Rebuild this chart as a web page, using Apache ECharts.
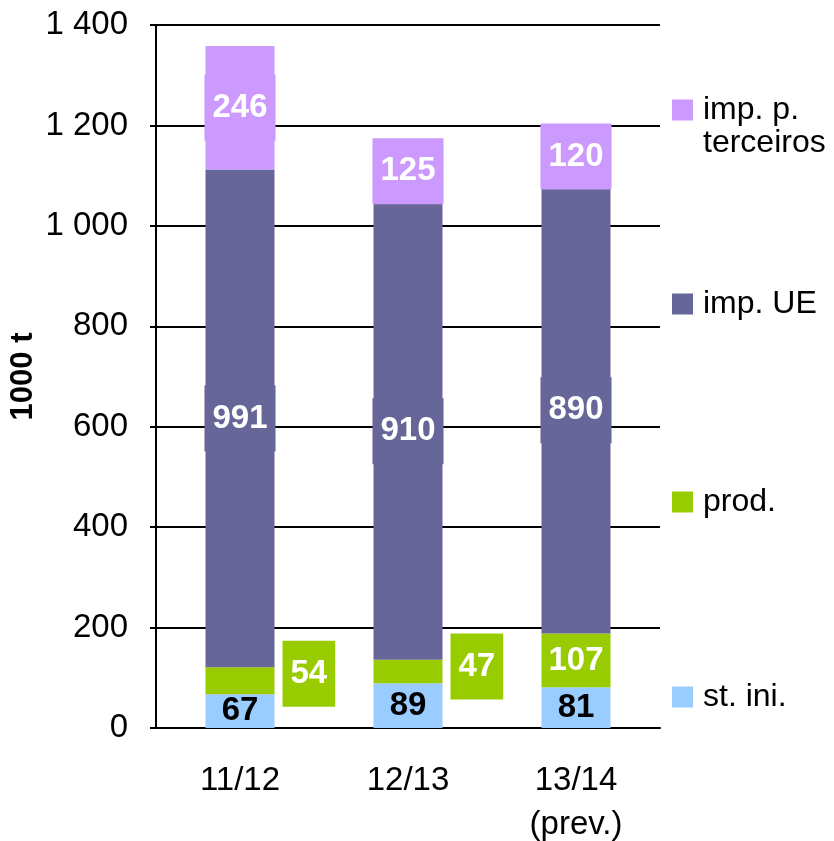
<!DOCTYPE html>
<html>
<head>
<meta charset="utf-8">
<script src="https://cdn.jsdelivr.net/npm/echarts@6/dist/echarts.min.js"></script>
<style>html,body{margin:0;padding:0;background:#fff}#c{width:834px;height:841px}</style>
</head>
<body>
<div id="c"></div>
<script>
const categories = ['11/12', '12/13', '13/14\n(prev.)'];
const stIni = [67, 89, 81];
const prod = [54, 47, 107];
const impUE = [991, 910, 890];
const impTerc = [246, 125, 120];
const yTicks = { min: 0, max: 1400, interval: 200 };

const FONT = '"Liberation Sans", Arial, sans-serif';
const C_ST = '#99CCFF', C_PROD = '#99CC00', C_UE = '#666699', C_TERC = '#CC99FF';

const labelBase = { show: true, fontFamily: FONT, fontSize: 33, fontWeight: 'bold', position: 'inside' };

const prodData = prod.map((v, i) => {
  if (i < 2) {
    return { value: v, label: { position: 'right', distance: 8, offset: [0, i === 0 ? -7 : -5], color: '#fff',
      backgroundColor: C_PROD, padding: [16, 8, 17, 8] } };
  }
  return { value: v };
});

const legendText = { fontFamily: FONT, fontSize: 32, color: '#000', lineHeight: 32, padding: [0, 0, 0, 5] };

const chart = echarts.init(document.getElementById('c'), null, { renderer: 'canvas' });
chart.setOption({
  animation: false,
  backgroundColor: '#fff',
  grid: { left: 156, right: 174, top: 25, bottom: 113, containLabel: false, outerBoundsMode: 'none' },
  xAxis: {
    type: 'category', data: categories,
    axisLine: { lineStyle: { color: '#000', width: 2 } },
    axisTick: { show: false },
    axisLabel: { fontFamily: FONT, fontSize: 33, color: '#000', margin: 31, lineHeight: 44 }
  },
  yAxis: {
    type: 'value', min: yTicks.min, max: yTicks.max, interval: yTicks.interval,
    name: '1000 t', nameLocation: 'middle', nameRotate: 90, nameGap: 117, nameMoveOverlap: false,
    nameTextStyle: { fontFamily: FONT, fontSize: 31, fontWeight: 'bold', color: '#000' },
    axisLine: { show: true, lineStyle: { color: '#000', width: 2 } },
    axisTick: { show: true, inside: false, length: 6, lineStyle: { color: '#000', width: 2 } },
    splitLine: { lineStyle: { color: '#000', width: 2 } },
    axisLabel: { fontFamily: FONT, fontSize: 33, color: '#000', margin: 28,
      formatter: v => String(v).replace(/\B(?=(\d{3})+(?!\d))/g, ' ') }
  },
  legend: [
    { data: ['imp. p. terceiros'], left: 672, top: 94, padding: 0, itemWidth: 21, itemHeight: 21, icon: 'rect',
      formatter: () => 'imp. p.', textStyle: legendText },
    { data: ['imp. UE'], left: 672, top: 288, padding: 0, itemWidth: 21, itemHeight: 21, icon: 'rect', textStyle: legendText },
    { data: ['prod.'], left: 672, top: 486, padding: 0, itemWidth: 21, itemHeight: 21, icon: 'rect', textStyle: legendText },
    { data: ['st. ini.'], left: 672, top: 681, padding: 0, itemWidth: 21, itemHeight: 21, icon: 'rect', textStyle: legendText }
  ],
  graphic: [
    { type: 'text', left: 703, top: 127, silent: true,
      style: { text: 'terceiros', font: '32px "Liberation Sans", Arial, sans-serif', fill: '#000' } }
  ],
  series: [
    { name: 'st. ini.', type: 'bar', stack: 't', barWidth: 69, data: stIni,
      itemStyle: { color: C_ST }, label: Object.assign({}, labelBase, { color: '#000' }) },
    { name: 'prod.', type: 'bar', stack: 't', barWidth: 69, data: prodData,
      itemStyle: { color: C_PROD }, label: Object.assign({}, labelBase, { color: '#fff' }) },
    { name: 'imp. UE', type: 'bar', stack: 't', barWidth: 69, data: impUE,
      itemStyle: { color: C_UE }, label: Object.assign({}, labelBase, { color: '#fff', backgroundColor: C_UE, padding: [16, 8, 17, 8] }) },
    { name: 'imp. p. terceiros', type: 'bar', stack: 't', barWidth: 69, data: impTerc,
      itemStyle: { color: C_TERC }, label: Object.assign({}, labelBase, { color: '#fff', backgroundColor: C_TERC, padding: [16, 8, 17, 8] }) }
  ]
});
</script>
</body>
</html>
